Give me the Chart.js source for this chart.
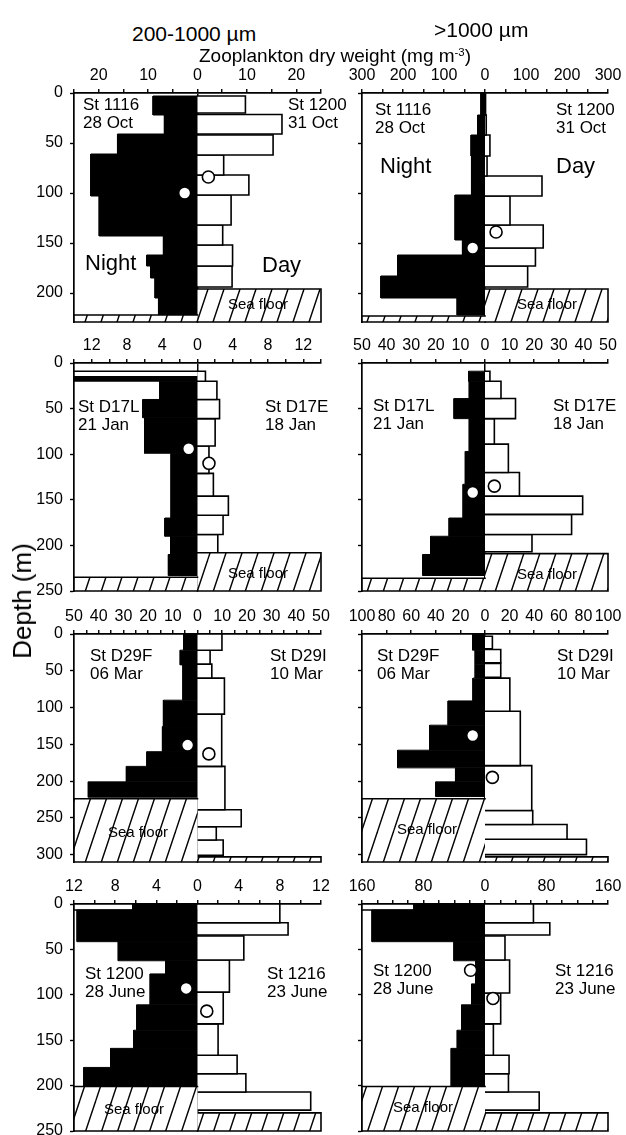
<!DOCTYPE html>
<html>
<head>
<meta charset="utf-8">
<title>Zooplankton dry weight profiles</title>
<script src="https://cdn.jsdelivr.net/npm/chart.js@4.4.1/dist/chart.umd.min.js"></script>
<style>
  html, body { margin: 0; padding: 0; background: #fff; overflow: hidden; }
  #fig { position: relative; width: 626px; height: 1135px; overflow: hidden;
         font-family: 'Liberation Sans', Arial, sans-serif; color: #000; }
  #fig canvas { position: absolute; }
  .txt { position: absolute; white-space: nowrap; line-height: 1; }
  .rot { position: absolute; white-space: nowrap; line-height: 1; transform: translate(-50%, -50%) rotate(-90deg); }
  sup { font-size: 0.6em; vertical-align: 0.55em; line-height: 0; }
</style>
</head>
<body>
<div id="fig"></div>
<script>
// ---- Data: depth bins [top, bottom] (m) and dry weight (mg m-3) ----

// 200-1000 um, October (St 1116 night / St 1200 day)
const smallOctNightDepth = [[3,22],[22,41],[41,61],[61,103],[103,143],[143,162],[162,173],[173,185],[185,205],[205,222]];
const smallOctNight      = [9.0, 6.7, 16.2, 21.6, 19.9, 6.9, 10.3, 9.5, 8.6, 7.9];
const smallOctDayDepth   = [[3,20],[21.5,41],[42,62],[62,82],[82,102],[102,132],[132,152],[152,173],[173,194]];
const smallOctDay        = [9.7, 17.1, 15.3, 5.3, 10.4, 6.8, 5.1, 7.1, 7.0];
const smallOctFloor      = [222, 196];
const smallOctMeanX      = [-2.6, 2.2];
const smallOctMeanDepth  = [100, 84];

// >1000 um, October
const largeOctNightDepth = [[0,22],[22,42],[42,63],[63,102],[102,147],[147,162],[162,183],[183,205],[205,222]];
const largeOctNight      = [10, 18, 34, 33, 73, 55, 213, 254, 68];
const largeOctDayDepth   = [[0,22],[22,42],[42,63],[63,83],[83,103],[103,132],[132,155],[155,173],[173,194]];
const largeOctDay        = [2, 3, 12, 5, 139, 61, 142, 123, 104];
const largeOctFloor      = [223, 196];
const largeOctMeanX      = [-30, 27];
const largeOctMeanDepth  = [155, 139];

// 200-1000 um, January (St D17L night / St D17E day)
const smallJanBlank      = [[9,15]];
const smallJanNightDepth = [[15,20],[20,40],[40,60],[60,99],[99,170],[170,190],[190,210],[210,233]];
const smallJanNight      = [14, 4.3, 6.2, 6.0, 3.0, 3.7, 3.05, 3.3];
const smallJanDayDepth   = [[9,20],[20,40],[40,61],[61,91],[91,121],[121,146],[146,167],[167,188],[188,208]];
const smallJanDay        = [0.9, 2.2, 2.5, 2.0, 1.3, 1.8, 3.5, 2.9, 2.3];
const smallJanFloor      = [235, 208];
const smallJanMeanX      = [-1.0, 1.3];
const smallJanMeanDepth  = [94, 110];

// >1000 um, January
const largeJanNightDepth = [[9,20],[20,39],[39,61],[61,97],[97,133],[133,170],[170,190],[190,210],[210,233]];
const largeJanNight      = [6.7, 6.4, 12.6, 6.4, 8.0, 8.9, 14.6, 22.1, 25.3];
const largeJanDayDepth   = [[9,20],[20,39],[39,61],[61,89],[89,120],[120,146],[146,166],[166,188],[188,207]];
const largeJanDay        = [2.0, 6.5, 12.4, 3.8, 9.5, 14, 39.7, 35.2, 19.1];
const largeJanFloor      = [236, 209];
const largeJanMeanX      = [-5, 3.8];
const largeJanMeanDepth  = [142, 135];

// 200-1000 um, March (St D29F night / St D29I day)
const smallMarNightDepth = [[0,22],[22,42],[42,90],[90,126],[126,160],[160,180],[180,201],[201,222]];
const smallMarNight      = [5.6, 7.0, 5.9, 13.8, 14.2, 20.5, 28.8, 44.2];
const smallMarDayDepth   = [[0,22],[22,41],[41,60],[60,109],[109,180],[180,239],[239,262],[262,280],[280,301]];
const smallMarDay        = [9.9, 5.1, 5.8, 10.9, 9.8, 11.1, 17.7, 7.6, 10.4];
const smallMarFloor      = [224, 303];
const smallMarMeanX      = [-4.0, 4.6];
const smallMarMeanDepth  = [151, 163];

// >1000 um, March
const largeMarNightDepth = [[0,22],[22,41],[41,60],[60,91],[91,124],[124,158],[158,182],[182,201],[201,221]];
const largeMarNight      = [10, 8, 8, 9.8, 30, 45, 71, 24, 40];
const largeMarDayDepth   = [[3,20],[21,39],[40,59],[60,105],[105,179],[179,240],[240,259],[259,279],[279,300]];
const largeMarDay        = [6, 12.8, 12.8, 20.2, 28.7, 38, 38.8, 66.7, 82.5];
const largeMarFloor      = [224, 303];
const largeMarMeanX      = [-10, 6];
const largeMarMeanDepth  = [138, 195];

// 200-1000 um, June (St 1200 night / St 1216 day)
const smallJunBlank      = [[0,6.6]];
const smallJunNightDepth = [[0,6.6],[6.6,41.5],[41.5,62.5],[62.5,77],[77,111],[111,139],[139,159],[159,180],[180,201]];
const smallJunNight      = [6.3, 11.7, 7.7, 3.1, 4.6, 5.9, 6.2, 8.45, 11.05];
const smallJunDayDepth   = [[0,20.6],[20.6,34.2],[35.3,61.7],[61.7,97],[97,132],[132,166.5],[166.5,187],[187,207],[207,227]];
const smallJunDay        = [8.0, 8.8, 4.5, 3.1, 2.5, 2.0, 3.85, 4.7, 11.0];
const smallJunFloor      = [201, 230];
const smallJunMeanX      = [-1.1, 0.9];
const smallJunMeanDepth  = [93, 118];

// >1000 um, June
const largeJunBlank      = [[0,6.6]];
const largeJunNightDepth = [[0,6.6],[6.6,41.5],[41.5,62.5],[62.5,88],[88,111],[111,139],[139,159],[159,201]];
const largeJunNight      = [92.6, 147, 40.4, 12, 17.4, 30.4, 36.1, 44];
const largeJunDayDepth   = [[0,20.6],[20.6,34.2],[35.3,61.7],[61.7,98],[98,132],[132,166.5],[166.5,187],[187,207],[207,227]];
const largeJunDay        = [63, 84.3, 26, 32, 20.4, 10.9, 31.3, 30.5, 70.5];
const largeJunFloor      = [201, 230];
const largeJunMeanX      = [-18.7, 10.4];
const largeJunMeanDepth  = [73, 104];

// ---- Axes ----
const panelRange     = [25, 300, 14, 50, 50, 100, 12, 160];
const panelTickStep  = [5, 50, 2, 10, 5, 20, 2, 20];
const panelLabelStep = [10, 100, 4, 10, 10, 20, 4, 80];
const rowDepthMax    = [229, 250, 310, 250];
const depthTickStep  = 50;

// ---- Text ----
const sizeClasses  = ['200-1000 µm', '>1000 µm'];
const nightStation = ['St 1116', 'St D17L', 'St D29F', 'St 1200'];
const nightDate    = ['28 Oct', '21 Jan', '06 Mar', '28 June'];
const dayStation   = ['St 1200', 'St D17E', 'St D29I', 'St 1216'];
const dayDate      = ['31 Oct', '18 Jan', '10 Mar', '23 June'];

// ---- Layout ----
const colCanvasLeft  = [0, 330];
const colCanvasWidth = [330, 296];
const colAxisWidth   = [74, 32];
const colPadRight    = [9, 18];
const rowAreaTop     = [93, 363, 634, 904];
const rowAreaBottom  = [322, 591, 862, 1131];
const TOP_AXIS_H = 44;
const PAD_BOTTOM = 14;
const TICK_FONT = "'Liberation Sans Narrow','Arial Narrow','Liberation Sans',Arial,sans-serif";

const panels = [
  { col:0, row:0, blank:[], nightDepth:smallOctNightDepth, night:smallOctNight, dayDepth:smallOctDayDepth, day:smallOctDay, floor:smallOctFloor, meanX:smallOctMeanX, meanDepth:smallOctMeanDepth },
  { col:1, row:0, blank:[], nightDepth:largeOctNightDepth, night:largeOctNight, dayDepth:largeOctDayDepth, day:largeOctDay, floor:largeOctFloor, meanX:largeOctMeanX, meanDepth:largeOctMeanDepth },
  { col:0, row:1, blank:smallJanBlank, nightDepth:smallJanNightDepth, night:smallJanNight, dayDepth:smallJanDayDepth, day:smallJanDay, floor:smallJanFloor, meanX:smallJanMeanX, meanDepth:smallJanMeanDepth },
  { col:1, row:1, blank:[], nightDepth:largeJanNightDepth, night:largeJanNight, dayDepth:largeJanDayDepth, day:largeJanDay, floor:largeJanFloor, meanX:largeJanMeanX, meanDepth:largeJanMeanDepth },
  { col:0, row:2, blank:[], nightDepth:smallMarNightDepth, night:smallMarNight, dayDepth:smallMarDayDepth, day:smallMarDay, floor:smallMarFloor, meanX:smallMarMeanX, meanDepth:smallMarMeanDepth },
  { col:1, row:2, blank:[], nightDepth:largeMarNightDepth, night:largeMarNight, dayDepth:largeMarDayDepth, day:largeMarDay, floor:largeMarFloor, meanX:largeMarMeanX, meanDepth:largeMarMeanDepth },
  { col:0, row:3, blank:smallJunBlank, nightDepth:smallJunNightDepth, night:smallJunNight, dayDepth:smallJunDayDepth, day:smallJunDay, floor:smallJunFloor, meanX:smallJunMeanX, meanDepth:smallJunMeanDepth },
  { col:1, row:3, blank:largeJunBlank, nightDepth:largeJunNightDepth, night:largeJunNight, dayDepth:largeJunDayDepth, day:largeJunDay, floor:largeJunFloor, meanX:largeJunMeanX, meanDepth:largeJunMeanDepth }
];

const fig = document.getElementById('fig');

// diagonal hatching for the sea floor
function makeHatch(ctx) {
  const tile = document.createElement('canvas');
  tile.width = 16; tile.height = 48;
  const g = tile.getContext('2d');
  g.fillStyle = '#fff'; g.fillRect(0, 0, 16, 48);
  g.strokeStyle = '#000'; g.lineWidth = 1.4;
  for (const o of [-16, 0, 16]) { g.beginPath(); g.moveTo(o, 48); g.lineTo(o + 16, 0); g.stroke(); }
  return ctx.createPattern(tile, 'repeat');
}

// outline of one depth bin, filled back to the zero line
function box(top, bottom, v) {
  return [{x: 0, y: top}, {x: v, y: top}, {x: v, y: bottom}, {x: 0, y: bottom}];
}

function buildPanel(p, idx) {
  const R = panelRange[idx];
  const D = rowDepthMax[p.row];
  const cv = document.createElement('canvas');
  const left = colCanvasLeft[p.col], width = colCanvasWidth[p.col];
  const top = rowAreaTop[p.row] - TOP_AXIS_H;
  const height = rowAreaBottom[p.row] - rowAreaTop[p.row] + TOP_AXIS_H + PAD_BOTTOM;
  cv.width = width; cv.height = height;
  cv.style.left = left + 'px'; cv.style.top = top + 'px';
  cv.style.width = width + 'px'; cv.style.height = height + 'px';
  fig.appendChild(cv);
  const hatch = makeHatch(cv.getContext('2d'));

  const base = { type: 'line', fill: 'origin', pointRadius: 0, pointHoverRadius: 0, tension: 0,
                 clip: false, borderJoinStyle: 'miter', borderCapStyle: 'square' };
  const datasets = [];
  p.blank.forEach(([t, b]) => datasets.push({ ...base, order: 5, data: box(t, b, -R),
    backgroundColor: '#fff', borderColor: '#000', borderWidth: 1.5 }));
  p.nightDepth.forEach(([t, b], i) => datasets.push({ ...base, order: 4, data: box(t, b, -p.night[i]),
    backgroundColor: '#000', borderColor: '#000', borderWidth: 1 }));
  p.dayDepth.forEach(([t, b], i) => datasets.push({ ...base, order: 3, data: box(t, b, p.day[i]),
    backgroundColor: '#fff', borderColor: '#000', borderWidth: 1.6 }));
  datasets.push({ ...base, order: 2, data: box(p.floor[0], D, -R), backgroundColor: hatch, borderColor: '#000', borderWidth: 1.6 });
  datasets.push({ ...base, order: 2, data: box(p.floor[1], D, R), backgroundColor: hatch, borderColor: '#000', borderWidth: 1.6 });
  datasets.push({ type: 'line', order: 0, showLine: false, clip: false, fill: false,
    data: p.meanX.map((x, i) => ({ x, y: p.meanDepth[i] })),
    pointRadius: 6, pointHoverRadius: 6, pointBackgroundColor: '#fff',
    pointBorderColor: '#000', pointBorderWidth: 1.6 });

  const tickFont = { family: TICK_FONT, size: 16 };
  new Chart(cv, {
    type: 'line',
    data: { datasets },
    options: {
      indexAxis: 'y',
      responsive: false,
      animation: false,
      events: [],
      layout: { padding: { left: 0, right: colPadRight[p.col], top: 0, bottom: PAD_BOTTOM } },
      plugins: { legend: { display: false }, tooltip: { enabled: false } },
      scales: {
        x: {
          type: 'linear', position: 'top', min: -R, max: R,
          afterFit: s => { s.height = TOP_AXIS_H; s.paddingLeft = 0; s.paddingRight = 0; },
          ticks: {
            stepSize: panelTickStep[idx], autoSkip: false, maxRotation: 0, minRotation: 0,
            padding: 4, color: '#000', font: tickFont,
            callback: v => {
              const a = Math.round(Math.abs(v) * 1000) / 1000;
              return a % panelLabelStep[idx] === 0 ? String(a) : '';
            }
          },
          grid: {
            drawOnChartArea: true, drawTicks: true, tickLength: 4, tickWidth: 1.4, tickColor: '#000',
            lineWidth: 1.5, color: c => (c.tick && c.tick.value === 0) ? '#000' : 'rgba(0,0,0,0)'
          },
          border: { display: true, color: '#000', width: 1.7 }
        },
        y: {
          type: 'linear', position: 'left', reverse: true, min: 0, max: D,
          afterFit: s => { s.width = colAxisWidth[p.col]; s.paddingTop = 0; s.paddingBottom = 0; },
          ticks: {
            stepSize: depthTickStep, includeBounds: false, autoSkip: false,
            display: p.col === 0, padding: 7, color: '#000', font: tickFont,
            callback: v => String(v)
          },
          grid: { drawOnChartArea: false, drawTicks: true, tickLength: 4, tickWidth: 1.4, tickColor: '#000' },
          border: { display: true, color: '#000', width: 1.7 }
        }
      }
    }
  });
}

panels.forEach(buildPanel);

// ---- Text overlay ----
function addText(html, x, capTop, size) {
  const d = document.createElement('div');
  d.className = 'txt';
  d.style.fontSize = size + 'px';
  d.style.left = x + 'px';
  d.style.top = (capTop - 0.13 * size) + 'px';
  d.innerHTML = html;
  fig.appendChild(d);
  return d;
}

addText(sizeClasses[0], 132, 26, 21);
addText(sizeClasses[1], 434, 22, 21);
addText('Zooplankton dry weight (mg m<sup>-3</sup>)', 199, 48, 19);

const depthTitle = document.createElement('div');
depthTitle.className = 'rot';
depthTitle.style.fontSize = '26px';
depthTitle.style.left = '22px';
depthTitle.style.top = '601px';
depthTitle.textContent = 'Depth (m)';
fig.appendChild(depthTitle);

// station name / date, placed per panel [nightX, dayX, firstLineCapTop]
const stationPos = [
  [83, 288, 98], [375, 556, 103],
  [78, 265, 400], [373, 553, 399],
  [90, 270, 649], [377, 557, 649],
  [85, 267, 967], [373, 555, 964]
];
panels.forEach((p, i) => {
  const [nx, dx, y] = stationPos[i];
  addText(nightStation[p.row], nx, y, 17);
  addText(nightDate[p.row], nx, y + 18.5, 17);
  addText(dayStation[p.row], dx, y, 17);
  addText(dayDate[p.row], dx, y + 18.5, 17);
});

addText('Night', 85, 255, 22);
addText('Day', 262, 257, 22);
addText('Night', 380, 158, 22);
addText('Day', 556, 158, 22);

const seaFloorPos = [[228, 298], [517, 298], [228, 567], [517, 568], [108, 826], [397, 823], [104, 1103], [393, 1101]];
seaFloorPos.forEach(([x, y]) => addText('Sea floor', x, y, 15));
</script>
</body>
</html>
